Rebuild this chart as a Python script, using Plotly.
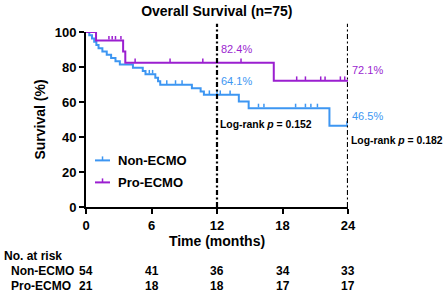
import numpy as np
import plotly.graph_objects as go

# ---- data ----
non_t = [0, 0.3, 0.55, 0.75, 0.95, 1.15, 1.5, 1.9, 2.3, 2.7, 3.1, 4.3, 5.2, 5.45,
         6.35, 6.6, 6.8, 9.7, 10.5, 10.8, 14.0, 14.9, 22.3, 24]
non_s = [100, 98.1, 96.3, 94.4, 92.6, 90.7, 88.9, 87.0, 85.2, 83.3, 81.5, 79.6, 77.7, 75.8,
         73.9, 71.9, 69.9, 67.9, 66.0, 64.1, 60.3, 56.5, 46.5, 46.5]
non_cens = [5.8, 6.1, 7.4, 8.2, 8.8, 11.3, 12.0, 12.3, 13.2, 15.8, 16.3,
            19.2, 20.1, 20.6, 21.2, 23.9]

pro_t = [0, 0.92, 3.4, 3.6, 17.2, 24]
pro_s = [100, 95.2, 88.9, 82.4, 72.1, 72.1]
pro_cens = [2.1, 2.4, 2.7, 3.2, 4.5, 7.7, 10.7, 14.2, 19.3, 20.1, 21.5, 21.9, 23.3, 23.7]

groups = ["Non-ECMO", "Pro-ECMO"]
x_ticks = [0, 6, 12, 18, 24]
risk_non = [54, 41, 36, 34, 33]
risk_pro = [21, 18, 18, 17, 17]
pct_12 = ["82.4%", "64.1%"]
pct_24 = ["72.1%", "46.5%"]
logrank = ["Log-rank <i>p</i> = 0.152", "Log-rank <i>p</i> = 0.182"]

BLUE = "#3D96F2"
PURPLE = "#9B1FD0"
FONT = "Liberation Sans, Arial, sans-serif"

# layout geometry (pixels)
W, H = 447, 292
ML, MR, MT, MB = 86, 99.3, 32.3, 84.7
PW = W - ML - MR
PH = H - MT - MB


def step_at(times, surv, t):
    i = np.searchsorted(times, t, side="right") - 1
    return np.asarray(surv)[i]


tick_off = 2.6 / PH * 100  # lift censor ticks so they sit on top of the line

fig = go.Figure()
for t, s, c, col in [(non_t, non_s, non_cens, BLUE), (pro_t, pro_s, pro_cens, PURPLE)]:
    fig.add_trace(go.Scatter(x=t, y=s, mode="lines", line=dict(color=col, width=2, shape="hv"),
                             cliponaxis=False, showlegend=False, hoverinfo="skip"))
    cy = step_at(np.array(t), s, np.array(c)) + tick_off
    fig.add_trace(go.Scatter(x=c, y=cy, mode="markers",
                             marker=dict(symbol="line-ns", size=2.6, line=dict(color=col, width=1.5)),
                             cliponaxis=False, showlegend=False, hoverinfo="skip"))

shapes = []
# vertical dash-dot reference lines at 12 and 24 months
for xv in [12, 24]:
    shapes.append(dict(type="line", xref="x", yref="paper", x0=xv, x1=xv, y0=0, y1=1.047,
                       line=dict(color="black", width=2.2, dash="5px,2.5px,2px,2.5px")))

annotations = []


def px_to_paper_x(px):
    return (px - ML) / PW


def py_to_paper_y(py):
    return (H - MB - py) / PH


# manual legend
for name, col, py in [(groups[0], BLUE, 160.7), (groups[1], PURPLE, 182.7)]:
    shapes.append(dict(type="line", xref="paper", yref="paper",
                       x0=px_to_paper_x(95), x1=px_to_paper_x(110),
                       y0=py_to_paper_y(py), y1=py_to_paper_y(py),
                       line=dict(color=col, width=2)))
    shapes.append(dict(type="line", xref="paper", yref="paper",
                       x0=px_to_paper_x(102.5), x1=px_to_paper_x(102.5),
                       y0=py_to_paper_y(py), y1=py_to_paper_y(py - 4),
                       line=dict(color=col, width=1.5)))
    annotations.append(dict(text=name, xref="paper", yref="paper", x=px_to_paper_x(116),
                            y=py_to_paper_y(py), xanchor="left", yanchor="middle", showarrow=False,
                            font=dict(family=FONT, size=13, color="black", weight="bold")))

# percentage labels
for txt, col, py, xv in [(pct_12[0], PURPLE, 49, 12), (pct_12[1], BLUE, 81.7, 12),
                         (pct_24[0], PURPLE, 70, 24), (pct_24[1], BLUE, 116.7, 24)]:
    annotations.append(dict(text=txt, xref="x", yref="paper", x=xv, xshift=2, y=py_to_paper_y(py),
                            xanchor="left", yanchor="middle", showarrow=False,
                            font=dict(family=FONT, size=11, color=col)))
for txt, py, xv in [(logrank[0], 125, 12), (logrank[1], 140.7, 24)]:
    annotations.append(dict(text=txt, xref="x", yref="paper", x=xv, xshift=1, y=py_to_paper_y(py),
                            xanchor="left", yanchor="middle", showarrow=False,
                            font=dict(family=FONT, size=10.4, color="black", weight="bold")))

# risk table
annotations.append(dict(text="No. at risk", xref="paper", yref="paper", x=px_to_paper_x(2),
                        y=py_to_paper_y(256.7), xanchor="left", yanchor="middle", showarrow=False,
                        font=dict(family=FONT, size=12, color="black", weight="bold")))
for name, vals, py in [(groups[0], risk_non, 271.7), (groups[1], risk_pro, 286.2)]:
    annotations.append(dict(text=name, xref="paper", yref="paper", x=px_to_paper_x(9),
                            y=py_to_paper_y(py), xanchor="left", yanchor="middle", showarrow=False,
                            font=dict(family=FONT, size=12, color="black", weight="bold")))
    for xv, v in zip(x_ticks, vals):
        annotations.append(dict(text=str(v), xref="x", yref="paper", x=xv, y=py_to_paper_y(py),
                                xanchor="center", yanchor="middle", showarrow=False,
                                font=dict(family=FONT, size=12, color="black", weight="bold")))

axis_common = dict(showline=True, linecolor="black", linewidth=2, ticks="outside", ticklen=5,
                   tickwidth=2, tickcolor="black", showgrid=False, zeroline=False,
                   tickfont=dict(family=FONT, size=13, color="black", weight="bold"))

fig.update_layout(
    width=W, height=H,
    margin=dict(l=ML, r=MR, t=MT, b=MB, pad=0),
    paper_bgcolor="white", plot_bgcolor="white",
    title=dict(text="Overall Survival (n=75)", x=(ML + PW / 2) / W, xanchor="center",
               y=1 - 11 / H, yanchor="middle",
               font=dict(family=FONT, size=14, color="black", weight="bold")),
    xaxis=dict(range=[0, 24], tickvals=x_ticks, **axis_common,
               title=dict(text="Time (months)", standoff=4,
                          font=dict(family=FONT, size=14, color="black", weight="bold"))),
    yaxis=dict(range=[0, 100], tickvals=[0, 20, 40, 60, 80, 100], **axis_common,
               title=dict(text="Survival (%)", standoff=6,
                          font=dict(family=FONT, size=14, color="black", weight="bold"))),
    shapes=shapes,
    annotations=annotations,
    showlegend=False,
)

fig.write_html("out.html", config={"displayModeBar": False},
               post_script="document.body.style.margin='0';document.body.style.overflow='hidden';")
